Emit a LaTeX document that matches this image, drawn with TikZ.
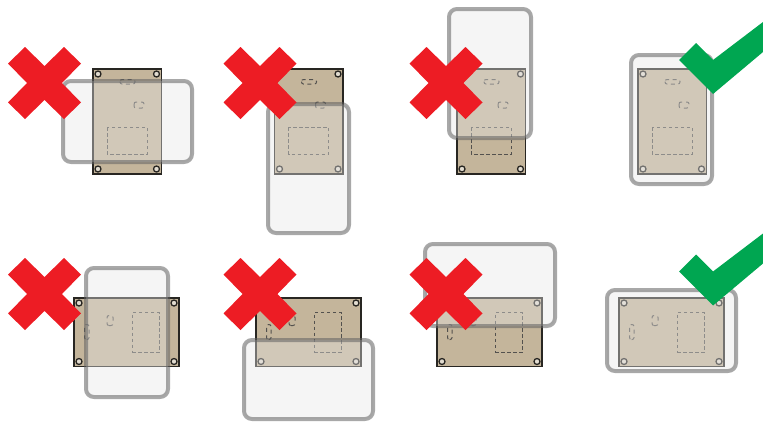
\documentclass[tikz,border=0pt]{standalone}
\usepackage{xcolor}
\definecolor{boardtan}{RGB}{196,181,155}
\definecolor{boardline}{RGB}{40,38,34}
\definecolor{holefill}{RGB}{226,220,208}
\definecolor{crossred}{RGB}{237,28,36}
\definecolor{checkgreen}{RGB}{0,166,81}
\tikzset{
    boardrect/.style={draw=boardline,fill=boardtan,line width=1.2pt},
    boardhole/.style={draw=boardline,fill=holefill,line width=1.3pt},
    boardmark/.style={draw=boardline!80,line width=1pt,dash pattern=on 3.5pt off 2.5pt},
    cardfill/.style={fill=black!10,fill opacity=0.4},
    cardedge/.style={draw=black!62,draw opacity=0.55,line width=4pt},
}
% one board, drawn upright from its top left corner
\newcommand{\boardpcb}{
    \draw[boardrect] (0,0) rectangle (68.5,105);
    \foreach \hx/\hy in {5/5,63.5/5,5/100,63.5/100}
        \draw[boardhole] (\hx,\hy) circle (3);
    \draw[boardmark] (14,58) rectangle (54,85);
    \draw[boardmark,rounded corners=2pt,dash pattern=on 4pt off 3.5pt] (27,10.5) rectangle (42,15);
    \draw[boardmark,rounded corners=2pt,dash pattern=on 4pt off 4pt] (41,33) rectangle (51,39);
}
\newcommand{\redcross}[2]{
    \fill[crossred,shift={(#1,#2)}] (-19.5,-36)--(0,-17)--(19.5,-36)--(36.5,-19.5)--(17.5,0)--(36.5,19.5)
        --(19.5,36)--(0,17)--(-19.5,36)--(-36.5,19.5)--(-17.5,0)--(-36.5,-19.5)--cycle;
}
\newcommand{\greencheck}[2]{
    \fill[checkgreen,shift={(#1,#2)}] (-34,0)--(-17,-17)--(0,0)--(50,-38)--(50,-8)--(0,34)--cycle;
}
\begin{document}
\begin{tikzpicture}[x=1pt,y=-1pt]
    \useasboundingbox (0,0) rectangle (763,421);
    % upright boards
    \foreach \x in {93,274.5,457,638} {
        \begin{scope}[shift={(\x,69)}]
            \boardpcb
        \end{scope}
    }
    % boards lying on their side
    \foreach \x in {74,256,437,619} {
        \begin{scope}[shift={(\x,366.5)},rotate=90]
            \boardpcb
        \end{scope}
    }
    % cards over the boards
    \foreach \xa/\ya/\xb/\yb in {63/81/192/162,268/104/349/233,449/9/531/138,631/55/712/184,
        86/268/168/397,244/340/373/419,425/244/555/326,607/290/736/371} {
        \path[cardfill,rounded corners=8pt] (\xa,\ya) rectangle (\xb,\yb);
        \path[cardedge,rounded corners=8pt] (\xa,\ya) rectangle (\xb,\yb);
    }
    \foreach \x/\y in {44.5/83,260/83,446/83,44.5/294,260/294,446/294} {
        \redcross{\x}{\y}
    }
    \greencheck{713}{60}
    \greencheck{713}{271.5}
\end{tikzpicture}
\end{document}
